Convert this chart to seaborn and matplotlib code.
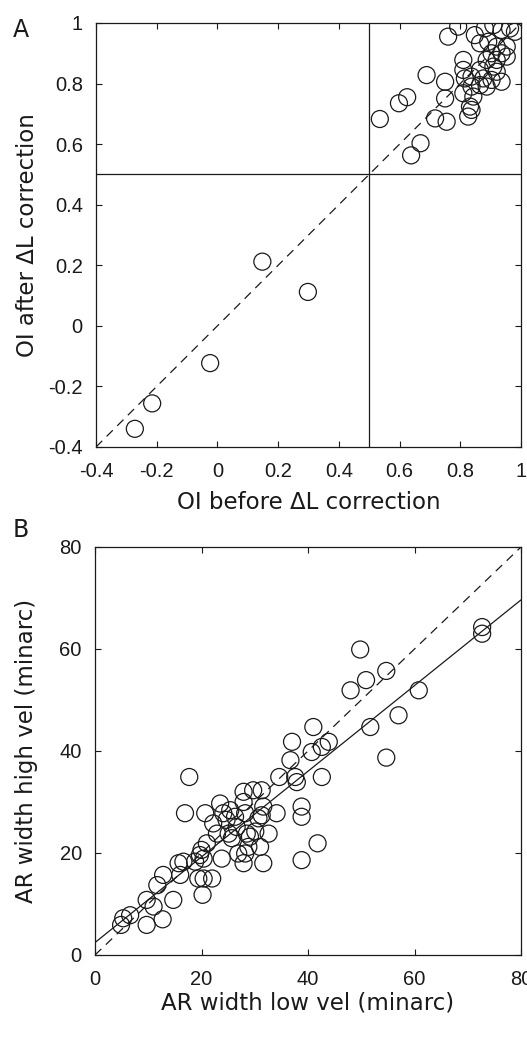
import numpy as np
import seaborn as sns
import matplotlib
matplotlib.use("Agg")
import matplotlib.pyplot as plt

# panel A: OI before / after dL correction
oi_before = [-0.272, -0.215, -0.024, 0.148, 0.298,
             0.535, 0.598, 0.625, 0.689, 0.669, 0.638,
             0.760, 0.793, 0.848, 0.881, 0.909, 0.936, 0.964, 0.980,
             0.865, 0.892, 0.920, 0.953, 0.903, 0.936, 0.887, 0.920,
             0.953, 0.909, 0.810, 0.810, 0.865, 0.920, 0.815, 0.837,
             0.876, 0.903, 0.936, 0.750, 0.837, 0.865, 0.887, 0.810,
             0.843, 0.750, 0.832, 0.837, 0.826, 0.717, 0.755]
oi_after = [-0.340, -0.256, -0.123, 0.212, 0.112,
            0.683, 0.735, 0.755, 0.828, 0.603, 0.563,
            0.955, 0.988, 0.960, 0.982, 0.993, 0.977, 0.982, 0.971,
            0.933, 0.938, 0.922, 0.922, 0.900, 0.900, 0.878, 0.878,
            0.889, 0.856, 0.878, 0.845, 0.845, 0.839, 0.817, 0.823,
            0.817, 0.812, 0.806, 0.806, 0.790, 0.795, 0.790, 0.768,
            0.757, 0.751, 0.724, 0.713, 0.691, 0.685, 0.674]

# panel B: AR width (minarc)
ar_low = [4.9, 5.3, 6.6, 9.7, 9.7, 11.0, 11.7, 12.8, 12.7, 14.7,
          15.7, 16.0, 16.6, 16.9, 17.7, 18.8, 19.4, 19.7, 20.0, 20.4,
          20.2, 20.4, 20.7, 21.0, 22.0, 22.2, 22.9, 23.8, 23.5, 24.1,
          24.7, 25.1, 25.4, 25.7, 26.3, 26.6, 26.9, 27.9, 27.9, 28.2,
          27.9, 28.2, 28.5, 28.8, 29.1, 29.7, 30.1, 30.7, 31.0, 31.3,
          31.6, 31.6, 31.3, 32.6, 34.1, 34.6, 36.7, 37.0, 37.6, 37.9,
          38.8, 38.8, 38.8, 40.7, 41.0, 41.8, 42.6, 43.9, 42.6, 48.0,
          49.8, 50.9, 51.7, 54.7, 54.7, 57.0, 60.8, 72.7, 72.7]
ar_high = [5.9, 7.2, 7.8, 5.9, 10.8, 9.5, 13.7, 15.7, 7.0, 10.8,
           18.0, 15.7, 18.3, 27.8, 34.9, 18.3, 15.0, 19.6, 20.6, 18.9,
           11.8, 15.0, 27.8, 21.9, 15.0, 25.8, 23.8, 18.9, 29.7, 27.8,
           26.5, 23.8, 28.4, 22.9, 27.1, 25.1, 19.9, 32.0, 30.0, 27.8,
           18.0, 19.9, 23.8, 21.2, 23.2, 32.3, 24.2, 26.8, 21.2, 32.3,
           18.0, 29.1, 27.4, 23.8, 27.8, 34.9, 38.2, 41.8, 34.9, 33.9,
           29.1, 27.1, 18.6, 39.8, 44.7, 21.9, 40.8, 41.8, 34.9, 51.9,
           59.9, 53.9, 44.7, 55.7, 38.7, 47.0, 51.9, 64.3, 63.0]

a_ticks = [-0.4, -0.2, 0, 0.2, 0.4, 0.6, 0.8, 1]
a_ticklabels = ["-0.4", "-0.2", "0", "0.2", "0.4", "0.6", "0.8", "1"]
b_ticks = [0, 20, 40, 60, 80]

sns.set_style("ticks")
plt.rcParams["font.family"] = ["Liberation Sans", "DejaVu Sans"]
plt.rcParams["xtick.direction"] = "in"
plt.rcParams["ytick.direction"] = "in"

ink = "#1a1a1a"
label_font = dict(fontsize=16.5, family=["DejaVu Sans"], color=ink)

fig = plt.figure(figsize=(5.27, 10.41), dpi=100)
axA = fig.add_axes([96/527, 1-447/1041, 425/527, 424/1041])
axB = fig.add_axes([95/527, 1-955/1041, 426/527, 408/1041])

circ = dict(marker="o", s=150, facecolors="none", edgecolor=ink,
            linewidth=0.9, legend=False, zorder=3)

# ---- A
axA.set_xlim(-0.4, 1)
axA.set_ylim(-0.4, 1)
ident = np.array([-0.4, 1])
sns.lineplot(x=ident, y=ident, ax=axA, color=ink, lw=0.9,
             linestyle=(0, (7, 5)))
axA.axhline(0.5, color=ink, lw=0.9)
axA.axvline(0.5, color=ink, lw=0.9)
sns.scatterplot(x=oi_before, y=oi_after, ax=axA, **circ)
axA.set_xticks(a_ticks, a_ticklabels)
axA.set_yticks(a_ticks, a_ticklabels)
axA.set_xlabel("OI before \u0394L correction", va="center", **label_font)
axA.set_ylabel("OI after \u0394L correction", va="center", **label_font)
axA.xaxis.set_label_coords(0.5, -0.132)
axA.yaxis.set_label_coords(-0.161, 0.5)

# ---- B
axB.set_xlim(0, 80)
axB.set_ylim(0, 80)
identB = np.array([0, 80])
sns.lineplot(x=identB, y=identB, ax=axB, color=ink, lw=0.9,
             linestyle=(0, (7, 5)))
sns.regplot(x=np.array(ar_low), y=np.array(ar_high), ax=axB, scatter=False,
            ci=None, truncate=False, color=ink, line_kws=dict(lw=0.9))
sns.scatterplot(x=ar_low, y=ar_high, ax=axB, **circ)
axB.set_xlim(0, 80)
axB.set_ylim(0, 80)
axB.set_xticks(b_ticks)
axB.set_yticks(b_ticks)
axB.set_xlabel("AR width low vel (minarc)", va="center", **label_font)
axB.set_ylabel("AR width high vel (minarc)", va="center", **label_font)
axB.xaxis.set_label_coords(0.5, -0.118)
axB.yaxis.set_label_coords(-0.160, 0.5)

for ax in (axA, axB):
    ax.tick_params(top=True, right=True, labelsize=14.5, length=4,
                   width=0.8, color=ink, labelcolor=ink)
    ax.tick_params(axis="x", pad=11)
    ax.tick_params(axis="y", pad=9.5)
    for sp in ax.spines.values():
        sp.set_color(ink)
        sp.set_linewidth(0.9)

fig.text(13/527, 1-37/1041, "A", fontsize=17, family=["DejaVu Sans"],
         color=ink, va="baseline")
fig.text(13/527, 1-537/1041, "B", fontsize=17, family=["DejaVu Sans"],
         color=ink, va="baseline")

fig.savefig("out.png", dpi=100, facecolor="white")
